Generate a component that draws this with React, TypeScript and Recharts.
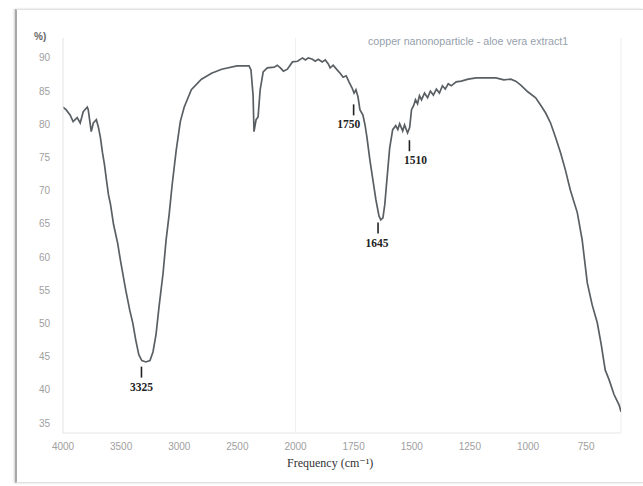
import React from 'react';
import { ComposedChart, Line, Scatter, XAxis, YAxis, ReferenceLine } from 'recharts';

// FTIR spectrum: wavenumber (cm-1) and transmittance (%)
const wavenumbers = [
  4000, 3974, 3939, 3913, 3878, 3852, 3826, 3791, 3783, 3757, 3739, 3713, 3696, 3678, 3661, 3643,
  3626, 3609, 3591, 3565, 3530, 3504, 3461, 3426, 3400, 3374, 3348, 3322, 3287, 3252, 3226, 3200,
  3174, 3139, 3113, 3087, 3061, 3026, 2991, 2957, 2896, 2809, 2722, 2635, 2504, 2400, 2383, 2365,
  2357, 2339, 2322, 2304, 2278, 2243, 2183, 2157, 2130, 2104, 2070, 2026, 1991, 1970, 1957, 1945,
  1927, 1915, 1902, 1885, 1872, 1859, 1851, 1838, 1821, 1808, 1795, 1782, 1770, 1757, 1748, 1740,
  1731, 1723, 1710, 1701, 1693, 1680, 1667, 1654, 1641, 1633, 1624, 1616, 1607, 1595, 1582, 1569,
  1560, 1552, 1539, 1531, 1518, 1509, 1501, 1492, 1484, 1475, 1467, 1458, 1445, 1432, 1420, 1407,
  1394, 1381, 1368, 1356, 1343, 1330, 1309, 1287, 1257, 1223, 1181, 1138, 1104, 1074, 1053, 1031,
  1001, 967, 946, 924, 903, 882, 860, 839, 818, 788, 767, 745, 724, 702, 685, 668,
  651, 630, 608, 600,
];
const transmittance = [
  82.6, 82.2, 81.4, 80.4, 81.0, 80.2, 81.9, 82.6, 82.2, 78.9, 80.2, 80.7, 79.6, 78.0, 75.8, 73.9,
  71.6, 69.4, 67.9, 64.9, 62.1, 59.3, 55.1, 52.0, 50.1, 47.5, 45.3, 44.4, 44.2, 44.4, 45.7, 48.3,
  52.5, 57.6, 62.6, 66.4, 70.9, 76.1, 80.4, 82.6, 85.2, 86.8, 87.7, 88.3, 88.8, 88.8, 88.2, 84.4,
  78.9, 80.7, 81.1, 85.2, 87.9, 88.5, 88.6, 88.9, 88.5, 88.0, 88.3, 89.4, 89.5, 90.0, 89.7, 90.0,
  89.8, 89.5, 89.8, 89.4, 89.7, 89.1, 88.5, 88.9, 88.2, 87.7, 87.1, 87.3, 86.4, 85.5, 84.7, 85.2,
  84.1, 82.2, 81.4, 79.9, 78.1, 74.6, 71.6, 68.6, 66.2, 65.6, 65.9, 67.9, 71.6, 76.4, 79.2, 79.8,
  79.2, 80.1, 79.0, 79.9, 78.7, 79.5, 82.2, 82.8, 83.7, 83.1, 84.3, 83.7, 84.7, 84.0, 85.0, 84.4,
  85.3, 84.7, 85.8, 85.3, 86.1, 85.8, 86.4, 86.5, 86.8, 87.0, 87.0, 87.0, 86.7, 86.8, 86.5, 85.9,
  84.9, 84.0, 82.9, 81.7, 80.2, 78.1, 75.7, 73.1, 70.1, 66.7, 62.6, 56.1, 52.8, 50.1, 46.8, 43.0,
  41.5, 39.3, 37.7, 36.7,
];

const xTickWavenumbers = [4000, 3500, 3000, 2500, 2000, 1750, 1500, 1250, 1000, 750];
const yTickValues = [35, 40, 45, 50, 55, 60, 65, 70, 75, 80, 85, 90];

const peakLabels = ['3325', '1750', '1645', '1510'];
const peakWavenumbers = [3325, 1750, 1645, 1510];
const peakMarkerTops = [43.5, 83.0, 65.2, 77.6];

const seriesTitle = 'copper nanonoparticle - aloe vera extract1';
const xAxisTitle = 'Frequency (cm\u207B\u00B9)';
const yAxisTitle = '%)';

// FTIR x-scale: 2x expansion below 2000 cm-1
const toPos = (wn: number) => (wn >= 2000 ? (4000 - wn) / 2 : 1000 + (2000 - wn));
const fromPos = (p: number) => (p <= 1000 ? 4000 - 2 * p : 2000 - (p - 1000));

const spectrum = wavenumbers.map((w, i) => ({ x: toPos(w), t: transmittance[i] }));
const peaks = peakWavenumbers.map((w, i) => ({ x: toPos(w), t: peakMarkerTops[i], label: peakLabels[i] }));

const labelDx: Record<string, number> = { '1750': -5, '1510': 6, '1645': -1 };

const PeakMark = (props: any) => {
  const { cx, cy, payload } = props;
  if (cx == null || cy == null) return null;
  const dx = labelDx[payload.label] || 0;
  return (
    <g>
      <line x1={cx} x2={cx} y1={cy} y2={cy + 11} stroke="#222" strokeWidth={1.6} />
      <text
        x={cx + dx}
        y={cy + 24}
        textAnchor="middle"
        fontFamily="'Liberation Serif', 'DejaVu Serif', serif"
        fontWeight="bold"
        fontSize={11.5}
        fill="#222"
      >
        {payload.label}
      </text>
    </g>
  );
};

const tickStyle = { fontFamily: "'Liberation Sans', Arial, sans-serif", fontSize: 10, fill: '#a0a0a0' };

export default function App() {
  return (
    <div style={{ position: 'absolute', left: 0, top: 0, width: 643, height: 486, background: '#fff' }}>
      {/* scanned figure frame */}
      <div
        style={{
          position: 'absolute',
          left: 15,
          top: 9,
          width: 628,
          height: 474,
          borderLeft: '2px solid #a8a8a8',
          borderTop: '1px solid #e2e2e2',
          borderBottom: '1px solid #e2e2e2',
          boxShadow: '-1px 0 2px #cfcfcf',
          boxSizing: 'border-box',
        }}
      />
      <div style={{ position: 'absolute', left: 0, top: 0 }}>
        <ComposedChart width={643} height={486} margin={{ top: 38, right: 22, bottom: 0, left: 0 }}>
          <XAxis
            type="number"
            dataKey="x"
            domain={[0, 2400]}
            ticks={xTickWavenumbers.map(toPos)}
            tickFormatter={(v: number) => String(Math.round(fromPos(v)))}
            allowDataOverflow
            tickLine={false}
            tickSize={0}
            tickMargin={10}
            axisLine={{ stroke: '#e6e6e6', strokeWidth: 1 }}
            tick={tickStyle}
            height={53}
          />
          <YAxis
            type="number"
            domain={[33.5, 93]}
            ticks={yTickValues}
            allowDataOverflow
            tickLine={false}
            tickSize={0}
            tickMargin={13}
            axisLine={{ stroke: '#e2e2e2', strokeWidth: 1 }}
            tick={tickStyle}
            width={63}
          />
          <ReferenceLine x={1000} stroke="#f0f0f0" strokeWidth={1} />
          <ReferenceLine x={2400} stroke="#ededed" strokeWidth={1} />
          <Line
            data={spectrum}
            dataKey="t"
            type="linear"
            stroke="#5a5f63"
            strokeWidth={1.7}
            dot={false}
            isAnimationActive={false}
          />
          <Scatter data={peaks} dataKey="t" shape={<PeakMark />} isAnimationActive={false} />
        </ComposedChart>
      </div>
      <div
        style={{
          position: 'absolute',
          left: 34,
          top: 31,
          fontFamily: "'Liberation Sans', Arial, sans-serif",
          fontSize: 10,
          color: '#666',
          fontWeight: 'bold',
        }}
      >
        {yAxisTitle}
      </div>
      <div
        style={{
          position: 'absolute',
          left: 368,
          top: 35,
          fontFamily: "'Liberation Sans', Arial, sans-serif",
          fontSize: 10.7,
          color: '#96a1ac',
          whiteSpace: 'nowrap',
        }}
      >
        {seriesTitle}
      </div>
      <div
        style={{
          position: 'absolute',
          left: 287,
          top: 456,
          fontFamily: "'Liberation Serif', 'DejaVu Serif', serif",
          fontSize: 12,
          color: '#333',
          whiteSpace: 'nowrap',
        }}
      >
        {xAxisTitle}
      </div>
    </div>
  );
}
